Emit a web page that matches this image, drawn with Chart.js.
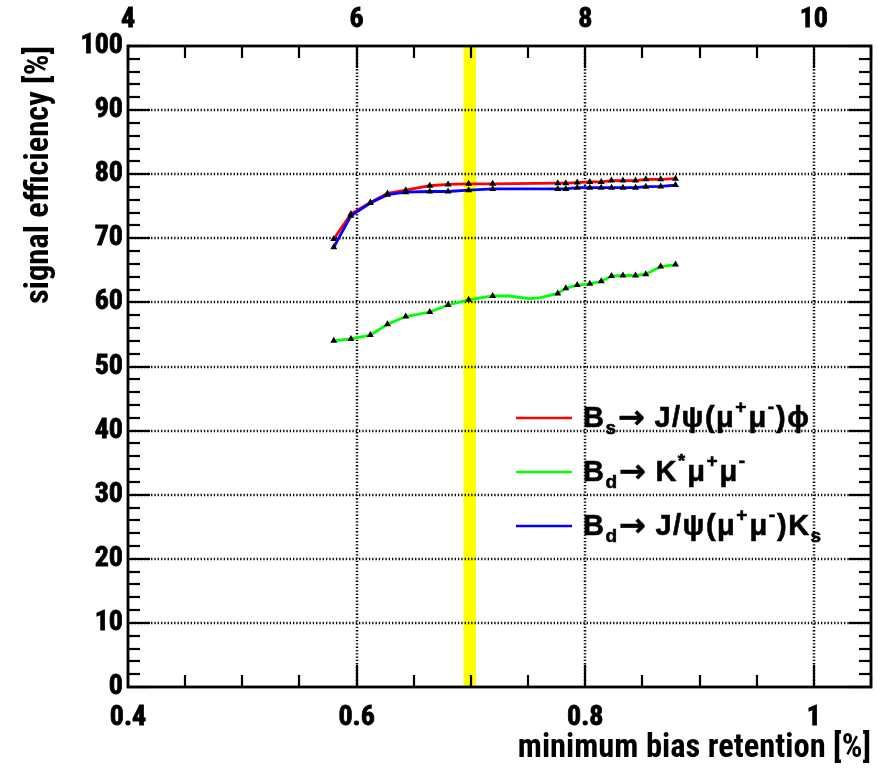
<!DOCTYPE html>
<html>
<head>
<meta charset="utf-8">
<script src="https://cdn.jsdelivr.net/npm/chart.js@4.4.1/dist/chart.umd.min.js"></script>
<style>
html,body{margin:0;padding:0;background:#ffffff;}
#wrap{width:882px;height:775px;position:relative;}
</style>
</head>
<body>
<div id="wrap"><canvas id="c" width="882" height="775"></canvas></div>
<script>
// ---- data ----
const retention = [0.580,0.595,0.612,0.627,0.643,0.664,0.680,0.698,0.719,0.776,0.783,0.793,0.804,0.814,0.823,0.833,0.844,0.853,0.866,0.879];
const effBsJpsiPhi = [69.9,73.8,75.6,77.0,77.5,78.2,78.4,78.5,78.5,78.6,78.6,78.7,78.8,78.8,79.0,79.0,79.0,79.2,79.2,79.3];
const effBdJpsiKs  = [68.6,73.5,75.5,76.8,77.2,77.3,77.3,77.5,77.7,77.7,77.7,77.9,77.9,77.9,77.9,77.9,77.9,78.05,78.1,78.3];
const retentionKstar = [0.580,0.595,0.612,0.627,0.643,0.664,0.680,0.698,0.719,0.733,0.751,0.760,0.776,0.783,0.793,0.804,0.814,0.823,0.833,0.844,0.853,0.866,0.879];
const effBdKstarMuMu = [54.0,54.3,54.9,56.6,57.8,58.5,59.6,60.4,61.0,61.0,60.6,60.7,61.4,62.2,62.7,62.9,63.3,64.1,64.2,64.2,64.4,65.6,65.9];
const kstarMarked    = [1,1,1,1,1,1,1,1,1,0,0,0,1,1,1,1,1,1,1,1,1,1,1];
const seriesNames = ['Bs\u2192 J/\u03c8(\u03bc+\u03bc-)\u03d5','Bd\u2192 K*\u03bc+\u03bc-','Bd\u2192 J/\u03c8(\u03bc+\u03bc-)Ks'];
const xTicks = [0.4,0.6,0.8,1.0];
const xTickLabels = ['0.4','0.6','0.8','1'];
const x2Ticks = [4,6,8,10];
const x2TickLabels = ['4','6','8','10'];
const yTicks = [0,10,20,30,40,50,60,70,80,90,100];
const yTickLabels = ['0','10','20','30','40','50','60','70','80','90','100'];
const band = [0.6935,0.7045];

const FONT = '"Roboto Condensed", "Liberation Sans", Arial, sans-serif';
const LEG_FONT = '"Liberation Sans", Arial, sans-serif';
const ARROW_FONT = '"DejaVu Sans", "Liberation Sans", sans-serif';
const pts = (xs, ys) => xs.map((x,i)=>({x:x, y:ys[i]}));

const framePlugin = {
  id: 'frame',
  beforeDatasetsDraw(chart) {
    const {ctx, chartArea:a, scales:{x, y}} = chart;
    ctx.save();
    const b0 = x.getPixelForValue(band[0]), b1 = x.getPixelForValue(band[1]);
    ctx.fillStyle = '#ffff00';
    ctx.fillRect(b0, a.top, b1 - b0, a.bottom - a.top);
    ctx.strokeStyle = '#000';
    ctx.lineWidth = 2.5;
    ctx.setLineDash([1.3, 2]);
    yTicks.forEach(v => {
      if (v <= y.min || v >= y.max) return;
      const py = Math.round(y.getPixelForValue(v));
      ctx.beginPath(); ctx.moveTo(a.left, py); ctx.lineTo(a.right, py); ctx.stroke();
    });
    xTicks.forEach(v => {
      if (v <= x.min || v >= x.max) return;
      const px = Math.round(x.getPixelForValue(v));
      ctx.beginPath(); ctx.moveTo(px, a.top); ctx.lineTo(px, a.bottom); ctx.stroke();
    });
    ctx.restore();
  },
  afterDatasetsDraw(chart) {
    const {ctx, chartArea:a, scales:{x, x2, y}} = chart;
    ctx.save();
    ctx.strokeStyle = '#000';
    ctx.setLineDash([]);
    ctx.lineWidth = 2.2;
    const MAJ = 22, MIN = 12;
    for (let i = 0; i <= 13; i++) {
      const v = +(0.4 + i*0.05).toFixed(3);
      if (v > x.max + 1e-9) break;
      const px = Math.round(x.getPixelForValue(v));
      const len = (i % 4 === 0) ? MAJ : MIN;
      ctx.beginPath(); ctx.moveTo(px, a.bottom); ctx.lineTo(px, a.bottom - len); ctx.stroke();
    }
    for (let i = 0; i <= 13; i++) {
      const v = 4 + i*0.5;
      if (v > x2.max + 1e-9) break;
      const px = Math.round(x2.getPixelForValue(v));
      const len = (i % 4 === 0) ? MAJ : MIN;
      ctx.beginPath(); ctx.moveTo(px, a.top); ctx.lineTo(px, a.top + len); ctx.stroke();
    }
    for (let i = 0; i <= 50; i++) {
      const v = i*2;
      const py = Math.round(y.getPixelForValue(v));
      const len = (i % 5 === 0) ? MAJ : MIN;
      ctx.beginPath(); ctx.moveTo(a.left, py); ctx.lineTo(a.left + len, py); ctx.stroke();
      ctx.beginPath(); ctx.moveTo(a.right, py); ctx.lineTo(a.right - len, py); ctx.stroke();
    }
    ctx.lineWidth = 2.8;
    ctx.strokeRect(a.left, a.top, a.right - a.left, a.bottom - a.top);
    ctx.restore();
  },
  afterDraw(chart) {
    const {ctx} = chart;
    const ds = chart.data.datasets;
    const rows = [
      {ds: 0, y: 419, parts: [['B','n'],['s','sub'],['\u2192','arr'],[' J/\u03c8(\u03bc','n'],['+','sup'],['\u03bc','n'],['-','sup'],[')\u03d5','n']]},
      {ds: 1, y: 473, parts: [['B','n'],['d','sub'],['\u2192','arr'],[' K','n'],['*','sup'],['\u03bc','n'],['+','sup'],['\u03bc','n'],['-','sup']]},
      {ds: 2, y: 527, parts: [['B','n'],['d','sub'],['\u2192','arr'],[' J/\u03c8(\u03bc','n'],['+','sup'],['\u03bc','n'],['-','sup'],[')K','n'],['s','sub']]}
    ];
    ctx.save();
    rows.forEach(r => {
      ctx.strokeStyle = ds[r.ds].borderColor;
      ctx.lineWidth = 2.5;
      ctx.beginPath(); ctx.moveTo(516, r.y - 1); ctx.lineTo(572, r.y - 1); ctx.stroke();
      let px = 583;
      ctx.fillStyle = '#000';
      ctx.strokeStyle = '#000';
      ctx.lineWidth = 0.6;
      ctx.textAlign = 'left';
      ctx.textBaseline = 'middle';
      r.parts.forEach(([t, k]) => {
        let size = 29, fam = LEG_FONT, dy = 0;
        if (k === 'sub') { size = 19; dy = 10; }
        else if (k === 'sup') { size = 19; dy = -11; }
        else if (k === 'arr') { size = 32; fam = ARROW_FONT; dy = 1; }
        ctx.font = 'bold ' + size + 'px ' + fam;
        ctx.letterSpacing = (k === 'n') ? '1.5px' : '0px';
        ctx.fillText(t, px, r.y + dy);
        ctx.strokeText(t, px, r.y + dy);
        px += ctx.measureText(t).width;
        if (k === 'sub' || k === 'sup') px += 2;
      });
    });
    ctx.letterSpacing = '0px';
    ctx.restore();
  }
};

const tickFont = {family: FONT, size: 28, weight: 'bold'};
const titleFont = {family: FONT, size: 32.5, weight: 'bold'};

new Chart(document.getElementById('c').getContext('2d'), {
  type: 'scatter',
  data: {
    datasets: [
      {label: seriesNames[0], data: pts(retention, effBsJpsiPhi), showLine: true, borderColor: '#ff0000', borderWidth: 2.8,
       pointStyle: 'triangle', pointRadius: 4, pointBackgroundColor: '#000', pointBorderColor: '#000', pointBorderWidth: 0, order: 3},
      {label: seriesNames[1], data: pts(retentionKstar, effBdKstarMuMu), showLine: true, borderColor: '#00ff00', borderWidth: 2.8,
       pointStyle: 'triangle', pointRadius: kstarMarked.map(m => m ? 4 : 0), pointBackgroundColor: '#000', pointBorderColor: '#000', pointBorderWidth: 0, order: 2},
      {label: seriesNames[2], data: pts(retention, effBdJpsiKs), showLine: true, borderColor: '#0000ff', borderWidth: 2.8,
       pointStyle: 'triangle', pointRadius: 4, pointBackgroundColor: '#000', pointBorderColor: '#000', pointBorderWidth: 0, order: 1}
    ]
  },
  options: {
    responsive: false,
    animation: false,
    devicePixelRatio: 1,
    layout: {padding: {left: 0, right: 11, top: 0, bottom: 0}},
    plugins: {legend: {display: false}, tooltip: {enabled: false}},
    scales: {
      x: {
        type: 'linear', position: 'bottom', min: 0.4, max: 1.05,
        afterFit(s) { s.height = 88; },
        afterBuildTicks(s) { s.ticks = xTicks.map(v => ({value: v})); },
        grid: {display: false, drawTicks: false},
        border: {display: false},
        ticks: {font: tickFont, color: '#000', padding: 14, maxRotation: 0, autoSkip: false,
                textStrokeColor: '#000', textStrokeWidth: 0.8,
                callback: (v, i) => xTickLabels[i]},
        title: {display: true, text: 'minimum bias retention [%]', align: 'end', font: titleFont, color: '#000',
                padding: {top: 0, bottom: 7}}
      },
      x2: {
        type: 'linear', position: 'top', min: 4, max: 10.5,
        afterFit(s) { s.height = 46; },
        afterBuildTicks(s) { s.ticks = x2Ticks.map(v => ({value: v})); },
        grid: {display: false, drawTicks: false},
        border: {display: false},
        ticks: {font: tickFont, color: '#000', padding: 9, maxRotation: 0, autoSkip: false,
                textStrokeColor: '#000', textStrokeWidth: 0.8,
                callback: (v, i) => x2TickLabels[i]}
      },
      y: {
        type: 'linear', position: 'left', min: 0, max: 100,
        afterFit(s) { s.width = 128; },
        afterBuildTicks(s) { s.ticks = yTicks.map(v => ({value: v})); },
        grid: {display: false, drawTicks: false},
        border: {display: false},
        ticks: {font: tickFont, color: '#000', padding: 5, autoSkip: false,
                textStrokeColor: '#000', textStrokeWidth: 0.8,
                callback: (v, i) => yTickLabels[i]},
        title: {display: true, text: 'signal efficiency [%]', align: 'end', font: titleFont, color: '#000',
                padding: {top: 20, bottom: 0}}
      }
    }
  },
  plugins: [framePlugin]
});
</script>
</body>
</html>
